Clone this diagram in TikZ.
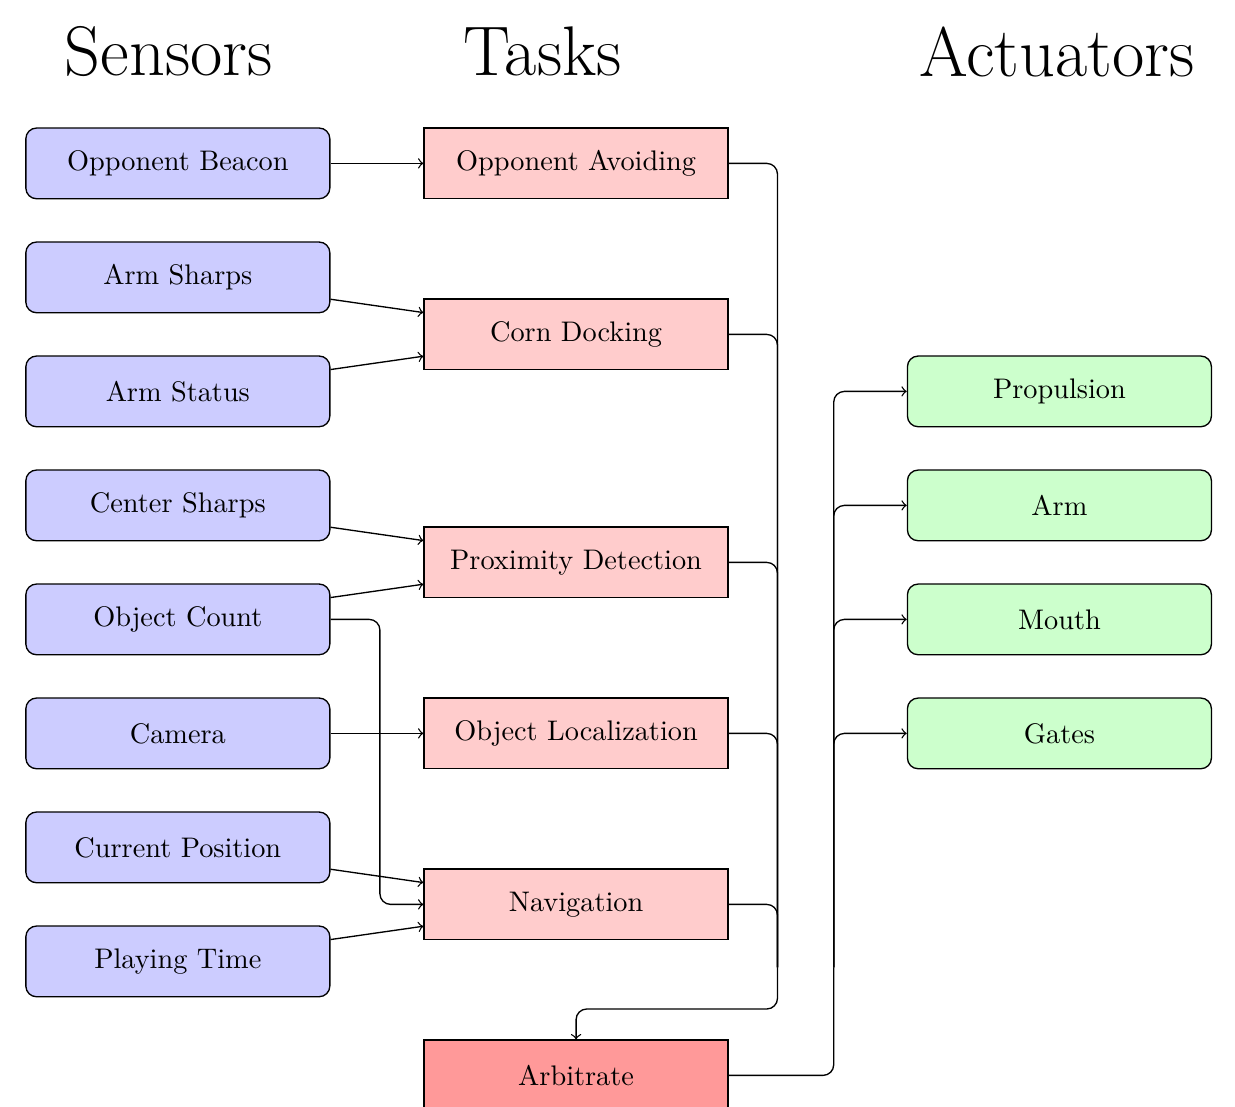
\documentclass[tikz,border=0pt]{standalone}
\begin{document}
\begin{tikzpicture}[
  line width=0.5pt,
  every node/.style={font=\fontsize{10.6}{12.7}\selectfont},
  sensor/.style={draw, rounded corners, fill=blue!20, minimum width=4cm, minimum height=0.93cm},
  task/.style={draw, fill=red!20, minimum width=4cm, minimum height=0.93cm},
  actuator/.style={draw, rounded corners, fill=green!20, minimum width=4cm, minimum height=0.93cm},
  heading/.style={font=\fontsize{26.3}{30}\selectfont}
]
  \useasboundingbox (-2.34,2.15) rectangle (13.91,-12.41);
  % Column headings
  \node[heading] (sensorshead) at (-0.12,1.47) {Sensors};
  \node[heading] (taskshead) at (4.8,1.47) {Tasks};
  \node[heading] (actuatorshead) at (11.57,1.47) {Actuators};
  % Sensors
  \node[sensor] (beacon) at (0,0) {Opponent Beacon};
  \node[sensor] (armsharps) at (0,-1.5) {Arm Sharps};
  \node[sensor] (armstatus) at (0,-3) {Arm Status};
  \node[sensor] (centersharps) at (0,-4.5) {Center Sharps};
  \node[sensor] (objcount) at (0,-6) {Object Count};
  \node[sensor] (camera) at (0,-7.5) {Camera};
  \node[sensor] (position) at (0,-9) {Current Position};
  \node[sensor] (playtime) at (0,-10.5) {Playing Time};
  % Tasks
  \node[task] (avoid) at (5.24,0) {Opponent Avoiding};
  \node[task] (docking) at (5.24,-2.25) {Corn Docking};
  \node[task] (proximity) at (5.24,-5.25) {Proximity Detection};
  \node[task] (localization) at (5.24,-7.5) {Object Localization};
  \node[task] (navigation) at (5.24,-9.75) {Navigation};
  \node[task, fill=red!40] (arbitrate) at (5.24,-12) {Arbitrate};
  % Actuators
  \node[actuator] (propulsion) at (11.6,-3) {Propulsion};
  \node[actuator] (arm) at (11.6,-4.5) {Arm};
  \node[actuator] (mouth) at (11.6,-6) {Mouth};
  \node[actuator] (gates) at (11.6,-7.5) {Gates};
  % Sensors to tasks
  \draw[->] (beacon) -- (avoid);
  \draw[->] (armsharps) -- (docking);
  \draw[->] (armstatus) -- (docking);
  \draw[->] (centersharps) -- (proximity);
  \draw[->] (objcount) -- (proximity);
  \draw[->] (camera) -- (localization);
  \draw[->] (position) -- (navigation);
  \draw[->] (playtime) -- (navigation);
  \draw[->, rounded corners] (objcount.east) -- ++(0.65,0) |- (navigation.west);
  % Tasks into the arbiter
  \coordinate (busleft) at (7.89,-10.58);
  \draw[rounded corners] (avoid.east) -| (busleft);
  \draw[rounded corners] (docking.east) -| (busleft);
  \draw[rounded corners] (proximity.east) -| (busleft);
  \draw[rounded corners] (localization.east) -| (busleft);
  \draw[rounded corners] (navigation.east) -| (busleft);
  \draw[->, rounded corners] (busleft) |- ([yshift=4mm]arbitrate.north) -- (arbitrate.north);
  % Arbiter out to the actuators
  \coordinate (busright) at (8.63,-10.58);
  \draw[rounded corners] (arbitrate.east) -| (busright);
  \draw[->, rounded corners] (busright) |- (propulsion.west);
  \draw[->, rounded corners] (busright) |- (arm.west);
  \draw[->, rounded corners] (busright) |- (mouth.west);
  \draw[->, rounded corners] (busright) |- (gates.west);
\end{tikzpicture}
\end{document}
